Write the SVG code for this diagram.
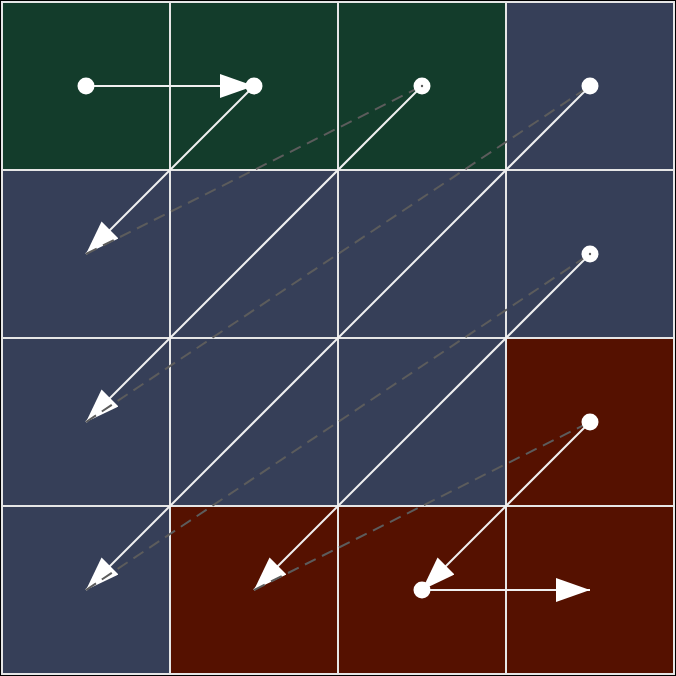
<svg xmlns="http://www.w3.org/2000/svg" width="676" height="676" viewBox="0 0 676 676">
  <style>
    .g { fill: #133C2B; }
    .b { fill: #363F58; }
    .r { fill: #551100; }
    .grid { stroke: #e6e6e6; stroke-width: 2; fill: none; }
    .solid { stroke: #f0f0f0; stroke-width: 2; fill: none; }
    .dash { stroke: #5c5c5c; stroke-width: 2; fill: none; stroke-dasharray: 12 7; }
    .node { fill: #ffffff; }
    .dot { fill: #5c5c5c; }
  </style>
  <defs>
    <marker id="ah" markerUnits="userSpaceOnUse" markerWidth="36" markerHeight="26" refX="34" refY="12" orient="auto">
      <path d="M0,0 L34,12 L0,24 Z" fill="#ffffff"/>
    </marker>
  </defs>
  <rect x="0" y="0" width="676" height="676" fill="#000000"/>
  <g id="cells">
    <rect class="g" x="2" y="2" width="168" height="168"/>
    <rect class="g" x="170" y="2" width="168" height="168"/>
    <rect class="g" x="338" y="2" width="168" height="168"/>
    <rect class="b" x="506" y="2" width="168" height="168"/>
    <rect class="b" x="2" y="170" width="168" height="168"/>
    <rect class="b" x="170" y="170" width="168" height="168"/>
    <rect class="b" x="338" y="170" width="168" height="168"/>
    <rect class="b" x="506" y="170" width="168" height="168"/>
    <rect class="b" x="2" y="338" width="168" height="168"/>
    <rect class="b" x="170" y="338" width="168" height="168"/>
    <rect class="b" x="338" y="338" width="168" height="168"/>
    <rect class="r" x="506" y="338" width="168" height="168"/>
    <rect class="b" x="2" y="506" width="168" height="168"/>
    <rect class="r" x="170" y="506" width="168" height="168"/>
    <rect class="r" x="338" y="506" width="168" height="168"/>
    <rect class="r" x="506" y="506" width="168" height="168"/>
  </g>
  <g id="grid" class="grid">
    <rect x="2" y="2" width="672" height="672"/>
    <line x1="170" y1="2" x2="170" y2="674"/>
    <line x1="338" y1="2" x2="338" y2="674"/>
    <line x1="506" y1="2" x2="506" y2="674"/>
    <line x1="2" y1="170" x2="674" y2="170"/>
    <line x1="2" y1="338" x2="674" y2="338"/>
    <line x1="2" y1="506" x2="674" y2="506"/>
  </g>
  <g id="connectors">
    <line class="solid" x1="86" y1="86" x2="254" y2="86" marker-end="url(#ah)"/>
    <line class="solid" x1="254" y1="86" x2="86" y2="254" marker-end="url(#ah)"/>
    <line class="solid" x1="422" y1="86" x2="86" y2="422" marker-end="url(#ah)"/>
    <line class="solid" x1="590" y1="86" x2="86" y2="590" marker-end="url(#ah)"/>
    <line class="solid" x1="590" y1="254" x2="254" y2="590" marker-end="url(#ah)"/>
    <line class="solid" x1="590" y1="422" x2="422" y2="590" marker-end="url(#ah)"/>
    <line class="solid" x1="422" y1="590" x2="590" y2="590" marker-end="url(#ah)"/>
    <line class="dash" x1="86" y1="254" x2="422" y2="86"/>
    <line class="dash" x1="86" y1="422" x2="590" y2="86"/>
    <line class="dash" x1="86" y1="590" x2="590" y2="254"/>
    <line class="dash" x1="254" y1="590" x2="590" y2="422"/>
  </g>
  <g id="node-0-0"><circle class="node" cx="86" cy="86" r="8.5"/></g>
  <g id="node-0-1"><circle class="node" cx="254" cy="86" r="8.5"/></g>
  <g id="node-0-2"><circle class="node" cx="422" cy="86" r="8.5"/><circle class="dot" cx="422" cy="86" r="1.2"/></g>
  <g id="node-0-3"><circle class="node" cx="590" cy="86" r="8.5"/></g>
  <g id="node-1-3"><circle class="node" cx="590" cy="254" r="8.5"/><circle class="dot" cx="590" cy="254" r="1.2"/></g>
  <g id="node-2-3"><circle class="node" cx="590" cy="422" r="8.5"/></g>
  <g id="node-3-2"><circle class="node" cx="422" cy="590" r="8.5"/></g>
</svg>
